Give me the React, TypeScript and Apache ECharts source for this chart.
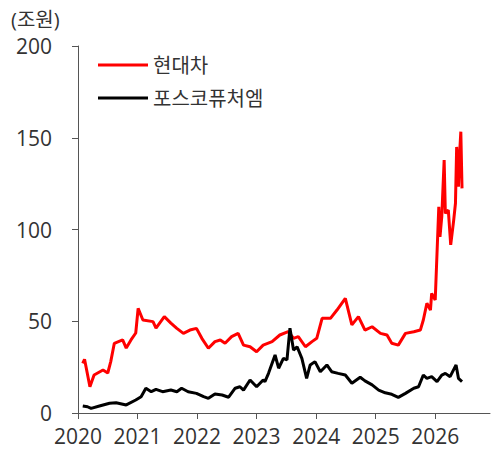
import React, { useEffect, useRef } from "react";
import * as echarts from "echarts";

const seriesNames = ["현대차", "포스코퓨처엠"];
const yearTicks = [2020, 2021, 2022, 2023, 2024, 2025, 2026];

const hyundaiDates = [
  2020.08, 2020.11, 2020.2, 2020.27, 2020.42, 2020.5, 2020.55, 2020.61, 2020.75, 2020.81,
  2020.89, 2020.97, 2021.01, 2021.09, 2021.26, 2021.31, 2021.45, 2021.56, 2021.66, 2021.77,
  2021.88, 2021.99, 2022.08, 2022.19, 2022.3, 2022.39, 2022.47, 2022.58, 2022.69, 2022.78,
  2022.89, 2023.0, 2023.11, 2023.26, 2023.39, 2023.53, 2023.62, 2023.7, 2023.82, 2023.93,
  2024.01, 2024.1, 2024.24, 2024.35, 2024.49, 2024.6, 2024.71, 2024.82, 2024.94, 2025.08,
  2025.19, 2025.27, 2025.38, 2025.5, 2025.64, 2025.75, 2025.8, 2025.86, 2025.92, 2025.94,
  2026.0, 2026.06, 2026.08, 2026.11, 2026.15, 2026.17, 2026.22, 2026.26, 2026.31, 2026.34,
  2026.36, 2026.39, 2026.41, 2026.43, 2026.45,
];
const hyundaiValues = [
  27, 29.3, 14.3, 20.7, 23.4, 21.8, 28, 38, 39.8, 35.4,
  39.8, 43.6, 57, 50.7, 49.8, 46.3, 52.5, 49, 46.1, 43.4,
  45.2, 46.1, 40.7, 35.3, 38.9, 39.8, 38, 41.6, 43.4, 37,
  36.1, 33.4, 37, 38.9, 42.5, 44.3, 40.7, 41.6, 36.1, 38.9,
  40.7, 51.6, 51.6, 56.1, 62.5, 48, 52.5, 45.2, 47, 43.4,
  42.5, 38, 37, 43.4, 44.3, 45.2, 50.7, 59.8, 56.1, 65.2,
  61.6, 112.4, 96, 107, 137.9, 108.8, 110.6, 91.6, 105, 114.3,
  145, 123.3, 141.5, 153.3, 122.4,
];

const poscoDates = [
  2020.08, 2020.16, 2020.22, 2020.36, 2020.53, 2020.64, 2020.81, 2020.97, 2021.06, 2021.14,
  2021.23, 2021.31, 2021.42, 2021.56, 2021.66, 2021.74, 2021.85, 2021.99, 2022.11, 2022.19,
  2022.3, 2022.42, 2022.53, 2022.64, 2022.72, 2022.78, 2022.89, 2023.0, 2023.11, 2023.14,
  2023.2, 2023.31, 2023.37, 2023.45, 2023.51, 2023.56, 2023.62, 2023.68, 2023.76, 2023.84,
  2023.9, 2023.98, 2024.07, 2024.18, 2024.26, 2024.37, 2024.49, 2024.6, 2024.74, 2024.82,
  2024.94, 2025.05, 2025.16, 2025.27, 2025.38, 2025.5, 2025.64, 2025.72, 2025.8, 2025.86,
  2025.94, 2026.03, 2026.11, 2026.17, 2026.25, 2026.35, 2026.39, 2026.45,
];
const poscoValues = [
  3.8, 3.4, 2.5, 3.8, 5.3, 5.6, 4.4, 7.1, 8.9, 13.5,
  11.6, 12.9, 11.6, 12.5, 11.6, 13.5, 11.6, 10.7, 8.9, 8,
  10.4, 9.8, 8.6, 13.5, 14.3, 12.5, 18, 14.3, 18, 17.1,
  21.6, 31.6, 24.4, 29.8, 28.9, 46.2, 34.3, 36.1, 29.8, 18.9,
  26.2, 28, 22.5, 26.2, 22.5, 21.6, 20.7, 16.2, 19.5, 17.5,
  15.3, 12.5, 11, 10.2, 8.5, 10.7, 13.5, 14.3, 20.7, 18.9,
  19.8, 17.1, 20.7, 21.6, 19.8, 26.2, 18.9, 17.1,
];

const FONT = "'Open Sans', 'Noto Sans CJK KR', sans-serif";

export default function App() {
  const ref = useRef<HTMLDivElement>(null);
  useEffect(() => {
    document.body.style.margin = "0";
    if (!ref.current) return;
    const chart = echarts.init(ref.current, undefined, { renderer: "svg" });
    const hyundai = hyundaiDates.map((d, i) => [d, hyundaiValues[i]]);
    const posco = poscoDates.map((d, i) => [d, poscoValues[i]]);
    chart.setOption({
      animation: false,
      backgroundColor: "#ffffff",
      textStyle: { fontFamily: FONT },
      graphic: [
        {
          type: "text",
          left: 11,
          top: 9,
          style: { text: "(조원)", fontSize: 20, fill: "#333333", fontFamily: FONT },
        },
      ],
      legend: {
        orient: "vertical",
        left: 93,
        top: 50,
        icon: "rect",
        itemWidth: 50,
        itemHeight: 3,
        itemGap: 13,
        textStyle: { fontSize: 20, lineHeight: 20, color: "#333333", fontFamily: FONT },
        data: seriesNames,
      },
      grid: { left: 78, right: 1, top: 46, bottom: 41, containLabel: false },
      xAxis: {
        type: "value",
        min: 2020,
        max: 2026.92,
        interval: 1,
        splitLine: { show: false },
        axisLine: { show: true, lineStyle: { color: "#555555", width: 1 } },
        axisTick: { show: true, length: 6, lineStyle: { color: "#555555" }, customValues: yearTicks },
        axisLabel: {
          customValues: yearTicks,
          fontSize: 21,
          color: "#333333",
          margin: 12,
          fontFamily: FONT,
          formatter: (v: number) => String(Math.round(v)),
        },
      },
      yAxis: {
        type: "value",
        min: 0,
        max: 200,
        interval: 50,
        splitLine: { show: false },
        axisLine: { show: true, lineStyle: { color: "#555555", width: 1 } },
        axisTick: { show: true, length: 6, lineStyle: { color: "#555555" } },
        axisLabel: { fontSize: 21, color: "#333333", margin: 26, fontFamily: FONT },
      },
      series: [
        {
          name: seriesNames[0],
          type: "line",
          data: hyundai,
          symbol: "none",
          lineStyle: { color: "#ff0000", width: 3 },
          itemStyle: { color: "#ff0000" },
        },
        {
          name: seriesNames[1],
          type: "line",
          data: posco,
          symbol: "none",
          lineStyle: { color: "#000000", width: 3 },
          itemStyle: { color: "#000000" },
        },
      ],
    });
    return () => chart.dispose();
  }, []);
  return <div ref={ref} style={{ width: 491, height: 454 }} />;
}
